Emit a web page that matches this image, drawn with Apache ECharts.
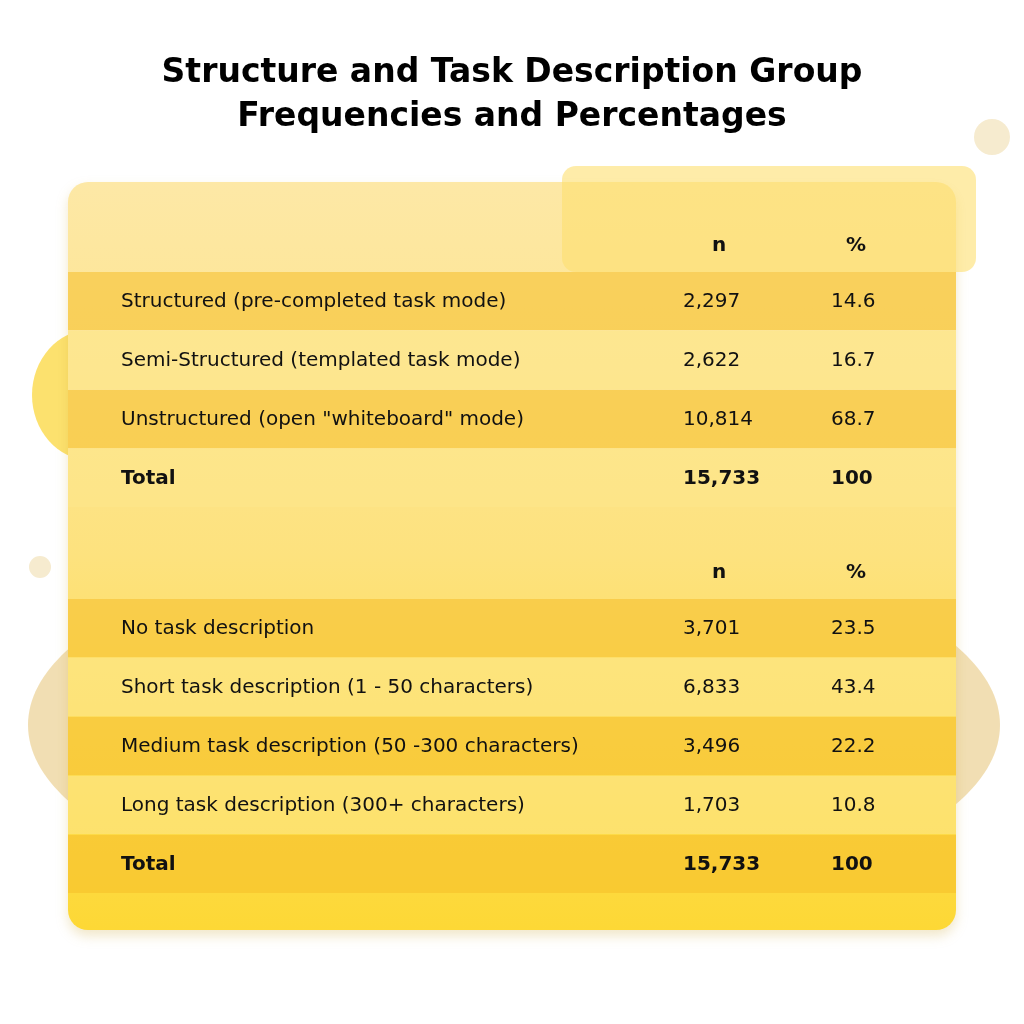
<!DOCTYPE html>
<html>
<head>
<meta charset="utf-8">
<script src="https://cdn.jsdelivr.net/npm/echarts@6/dist/echarts.min.js"></script>
<style>html,body{margin:0;padding:0;background:#fff}#main{width:1024px;height:1024px}</style>
</head>
<body>
<div id="main"></div>
<script>
var titleLines = ['Structure and Task Description Group', 'Frequencies and Percentages'];
var headers = ['n', '%'];

var structureLabels = ['Structured (pre-completed task mode)', 'Semi-Structured (templated task mode)', 'Unstructured (open "whiteboard" mode)', 'Total'];
var structureN = ['2,297', '2,622', '10,814', '15,733'];
var structurePct = ['14.6', '16.7', '68.7', '100'];

var descLabels = ['No task description', 'Short task description (1 - 50 characters)', 'Medium task description (50 -300 characters)', 'Long task description (300+ characters)', 'Total'];
var descN = ['3,701', '6,833', '3,496', '1,703', '15,733'];
var descPct = ['23.5', '43.4', '22.2', '10.8', '100'];

var chart = echarts.init(document.getElementById('main'));
var font = '"DejaVu Sans", sans-serif';
var elements = [];

// decorative shapes
elements.push({ type: 'ellipse', shape: { cx: 514, cy: 725, rx: 486, ry: 190 }, style: { fill: '#eed6a0', opacity: 0.8 } });
elements.push({ type: 'circle', shape: { cx: 992, cy: 137, r: 18 }, style: { fill: '#f6ebcf' } });
elements.push({ type: 'circle', shape: { cx: 40, cy: 567, r: 11 }, style: { fill: '#f6ebcf' } });
elements.push({ type: 'ellipse', shape: { cx: 90, cy: 395, rx: 58, ry: 65 }, style: { fill: '#fbd94a', opacity: 0.8 } });

// card
elements.push({
  type: 'rect', shape: { x: 68, y: 182, width: 888, height: 748, r: 20 },
  style: {
    fill: new echarts.graphic.LinearGradient(0, 0, 0, 1, [
      { offset: 0, color: '#fde8a6' }, { offset: 0.5, color: '#fde27e' }, { offset: 1, color: '#fdd835' }
    ]),
    shadowBlur: 12, shadowColor: 'rgba(200,160,40,0.25)', shadowOffsetY: 6
  }
});
elements.push({ type: 'rect', shape: { x: 562, y: 166, width: 414, height: 106, r: 14 }, style: { fill: '#fde070', opacity: 0.6 } });

function addTable(labels, ns, pcts, headerY, firstRowY) {
  var rowH = 59;
  elements.push({ type: 'text', style: { text: headers[0], x: 719, y: headerY, fill: '#111', font: 'bold 20px ' + font, align: 'center', verticalAlign: 'middle' } });
  elements.push({ type: 'text', style: { text: headers[1], x: 856, y: headerY, fill: '#111', font: 'bold 20px ' + font, align: 'center', verticalAlign: 'middle' } });
  for (var i = 0; i < labels.length; i++) {
    var top = firstRowY + i * rowH;
    var cy = top + rowH / 2;
    var bold = labels[i] === 'Total';
    elements.push({ type: 'rect', shape: { x: 68, y: top, width: 888, height: rowH - 1 },
      style: { fill: i % 2 === 0 ? 'rgba(245,190,40,0.55)' : 'rgba(253,232,140,0.55)' } });
    var f = (bold ? 'bold ' : '') + '20px ' + font;
    elements.push({ type: 'text', style: { text: labels[i], x: 121, y: cy, fill: '#111', font: f, verticalAlign: 'middle' } });
    elements.push({ type: 'text', style: { text: ns[i], x: 683, y: cy, fill: '#111', font: f, verticalAlign: 'middle' } });
    elements.push({ type: 'text', style: { text: pcts[i], x: 831, y: cy, fill: '#111', font: f, verticalAlign: 'middle' } });
  }
}
addTable(structureLabels, structureN, structurePct, 246, 272);
addTable(descLabels, descN, descPct, 573, 599);

titleLines.forEach(function (t, i) {
  elements.push({ type: 'text', style: { text: t, x: 512, y: 73 + i * 44, fill: '#000', font: 'bold 33px ' + font, align: 'center', verticalAlign: 'middle' } });
});

chart.setOption({ graphic: { elements: elements } });
</script>
</body>
</html>
